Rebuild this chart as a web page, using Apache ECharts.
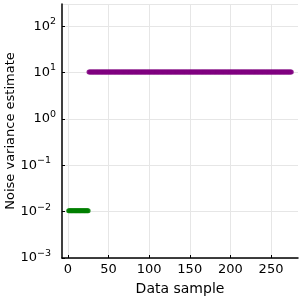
<!DOCTYPE html>
<html><head><meta charset="utf-8">
<script src="https://cdn.jsdelivr.net/npm/echarts@6/dist/echarts.min.js"></script>
<style>html,body{margin:0;padding:0;background:#fff}#c{width:300px;height:300px}</style>
</head><body><div id="c"></div>
<script>
var greenX = [1,2,3,4,5,6,7,8,9,10,11,12,13,14,15,16,17,18,19,20,21,22,23,24,25];
var greenY = [0.0105,0.0105,0.0105,0.0105,0.0105,0.0105,0.0105,0.0105,0.0105,0.0105,0.0105,0.0105,0.0105,0.0105,0.0105,0.0105,0.0105,0.0105,0.0105,0.0105,0.0105,0.0105,0.0105,0.0105,0.0105];
var purpleStart = 26;
var purpleY = [
10.2,10.2,10.2,10.2,10.2,10.2,10.2,10.2,10.2,10.2,10.2,10.2,10.2,10.2,10.2,10.2,10.2,10.2,10.2,10.2,10.2,10.2,10.2,10.2,10.2,
10.2,10.2,10.2,10.2,10.2,10.2,10.2,10.2,10.2,10.2,10.2,10.2,10.2,10.2,10.2,10.2,10.2,10.2,10.2,10.2,10.2,10.2,10.2,10.2,10.2,
10.2,10.2,10.2,10.2,10.2,10.2,10.2,10.2,10.2,10.2,10.2,10.2,10.2,10.2,10.2,10.2,10.2,10.2,10.2,10.2,10.2,10.2,10.2,10.2,10.2,
10.2,10.2,10.2,10.2,10.2,10.2,10.2,10.2,10.2,10.2,10.2,10.2,10.2,10.2,10.2,10.2,10.2,10.2,10.2,10.2,10.2,10.2,10.2,10.2,10.2,
10.2,10.2,10.2,10.2,10.2,10.2,10.2,10.2,10.2,10.2,10.2,10.2,10.2,10.2,10.2,10.2,10.2,10.2,10.2,10.2,10.2,10.2,10.2,10.2,10.2,
10.2,10.2,10.2,10.2,10.2,10.2,10.2,10.2,10.2,10.2,10.2,10.2,10.2,10.2,10.2,10.2,10.2,10.2,10.2,10.2,10.2,10.2,10.2,10.2,10.2,
10.2,10.2,10.2,10.2,10.2,10.2,10.2,10.2,10.2,10.2,10.2,10.2,10.2,10.2,10.2,10.2,10.2,10.2,10.2,10.2,10.2,10.2,10.2,10.2,10.2,
10.2,10.2,10.2,10.2,10.2,10.2,10.2,10.2,10.2,10.2,10.2,10.2,10.2,10.2,10.2,10.2,10.2,10.2,10.2,10.2,10.2,10.2,10.2,10.2,10.2,
10.2,10.2,10.2,10.2,10.2,10.2,10.2,10.2,10.2,10.2,10.2,10.2,10.2,10.2,10.2,10.2,10.2,10.2,10.2,10.2,10.2,10.2,10.2,10.2,10.2,
10.2,10.2,10.2,10.2,10.2,10.2,10.2,10.2,10.2,10.2,10.2,10.2,10.2,10.2,10.2,10.2,10.2,10.2,10.2,10.2,10.2,10.2,10.2,10.2,10.2
];
var xTicks = [0,50,100,150,200,250];
var xName = "Data sample";
var yName = "Noise variance estimate";

var greenData = greenX.map(function(x,i){return [x, greenY[i]];});
var purpleData = purpleY.map(function(v,i){return [purpleStart+i, v];});
var FONT = "DejaVu Sans";
var chart = echarts.init(document.getElementById('c'), null, {renderer:'canvas'});
chart.setOption({
  animation:false,
  backgroundColor:'#fff',
  grid:{left:62,right:2,top:4,bottom:42,containLabel:false,outerBoundsMode:'none'},
  xAxis:{
    type:'value', min:-7.2, max:283.2,
    name:xName, nameLocation:'middle', nameGap:24, nameMoveOverlap:false,
    nameTextStyle:{fontFamily:FONT,fontSize:14,color:'#000'},
    axisLine:{show:true,onZero:false,lineStyle:{color:'#000',width:1.5}},
    axisTick:{show:true,inside:true,length:3,customValues:xTicks,lineStyle:{color:'#000'}},
    axisLabel:{customValues:xTicks,fontFamily:FONT,fontSize:13,color:'#000',margin:5},
    splitLine:{show:true,lineStyle:{color:'#e6e6e6',width:1}}
  },
  yAxis:{
    type:'log', logBase:10, min:0.001, max:300,
    name:yName, nameLocation:'middle', nameGap:45, nameMoveOverlap:false,
    nameTextStyle:{fontFamily:FONT,fontSize:13,color:'#000'},
    axisLine:{show:true,onZero:false,lineStyle:{color:'#000',width:1.5}},
    axisTick:{show:true,inside:true,length:3,lineStyle:{color:'#000'}},
    axisLabel:{
      fontFamily:FONT,fontSize:13,color:'#000',margin:6,showMaxLabel:false,
      formatter:function(v){
        var e = Math.round(Math.log10(v));
        var s = e < 0 ? '\u2212' + (-e) : String(e);
        return '{b|10}{s|' + s + '}' + (e < 0 ? '{g| }' : '');
      },
      rich:{
        b:{fontFamily:FONT,fontSize:13,color:'#000'},
        s:{fontFamily:FONT,fontSize:9.5,color:'#000',verticalAlign:'top',padding:[0,0,9,0]},
        g:{fontSize:9,width:5}
      }
    },
    splitLine:{show:true,lineStyle:{color:'#e6e6e6',width:1}}
  },
  series:[
    {type:'scatter',data:greenData,symbol:'circle',symbolSize:5,itemStyle:{color:'#008000'}},
    {type:'scatter',data:purpleData,symbol:'circle',symbolSize:5,itemStyle:{color:'#800080'}}
  ]
});
</script></body></html>
